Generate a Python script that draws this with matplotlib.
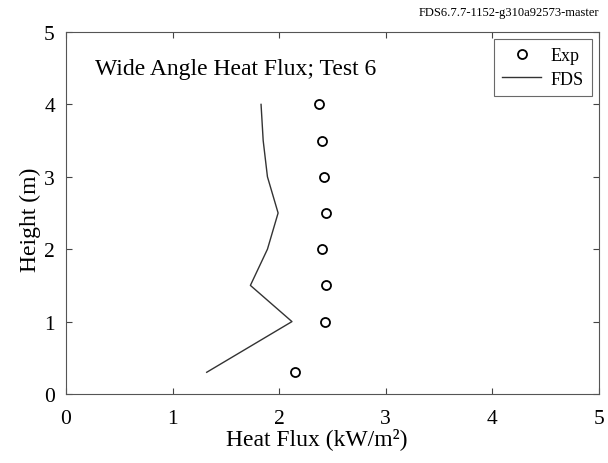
import matplotlib
matplotlib.use("Agg")
import matplotlib.pyplot as plt

exp_flux = [2.37, 2.40, 2.42, 2.44, 2.40, 2.44, 2.43, 2.15]
exp_height = [4.0, 3.5, 3.0, 2.5, 2.0, 1.5, 1.0, 0.3]
fds_flux = [1.83, 1.85, 1.89, 1.99, 1.89, 1.73, 2.12, 1.32]
fds_height = [4.0, 3.5, 3.0, 2.5, 2.0, 1.5, 1.0, 0.3]
ticks = [0, 1, 2, 3, 4, 5]

plt.rcParams['font.family'] = ['Liberation Serif', 'DejaVu Serif']

fig = plt.figure(figsize=(6.08, 4.64), dpi=100)
ax = fig.add_axes([0.1086, 0.1487, 0.8764, 0.7802])
ax.plot(exp_flux, exp_height, linestyle='none', marker='o', markersize=6.5,
        markerfacecolor='none', markeredgecolor='black', markeredgewidth=1.3, label='Exp')
ax.plot(fds_flux, fds_height, color='#333333', linewidth=1.0, label='FDS')
ax.set_xlim(0, 5)
ax.set_ylim(0, 5)
ax.set_xticks(ticks)
ax.set_yticks(ticks)
ax.tick_params(direction='in', top=True, right=True, labelsize=15.5, length=4, color='#444444')
ax.tick_params(axis='x', pad=11)
ax.tick_params(axis='y', pad=8)
for s in ax.spines.values():
    s.set_color('#555555')
ax.set_xlabel('Heat Flux (kW/m²)', fontsize=17)
ax.set_ylabel('Height (m)', fontsize=17)
ax.xaxis.set_label_coords(0.471, -0.09)
ax.yaxis.set_label_coords(-0.047, 0.485)
ax.text(0.054, 0.884, 'Wide Angle Heat Flux; Test 6', transform=ax.transAxes,
        fontsize=17, va='baseline')
leg = ax.legend(loc='upper right', fontsize=13, frameon=True, fancybox=False,
                edgecolor='#444444', handlelength=2.2, borderpad=0.45, labelspacing=0.35,
                handletextpad=0.5, borderaxespad=0.4)
leg.get_frame().set_linewidth(0.8)
fig.text(0.985, 0.965, 'FDS6.7.7-1152-g310a92573-master', ha='right', fontsize=9)
fig.savefig('out.png', dpi=100)
